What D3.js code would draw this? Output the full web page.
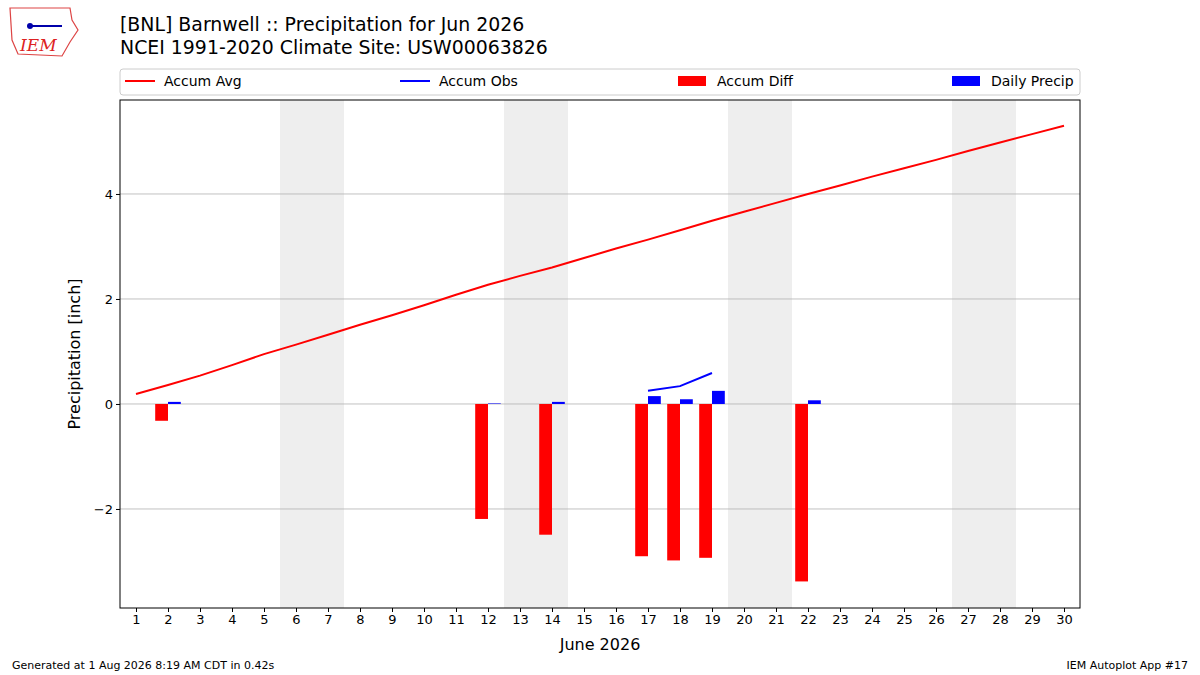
<!DOCTYPE html>
<html><head><meta charset="utf-8">
<script src="https://cdn.jsdelivr.net/npm/d3@7"></script>
<style>body{margin:0;background:#fff;font-family:"DejaVu Sans",sans-serif}</style>
</head><body><svg id="c" width="1200" height="675"></svg>
<script>
const days = d3.range(1,31);
const accumAvg = [0.19,0.36,0.54,0.74,0.95,1.13,1.32,1.51,1.69,1.88,2.08,2.27,2.44,2.60,2.78,2.96,3.13,3.31,3.49,3.66,3.83,4.00,4.16,4.33,4.49,4.65,4.82,4.98,5.14,5.30];
const obsDays = [17,18,19];
const accumObs = [0.25,0.34,0.59];
const precipDays = [2,12,14,17,18,19,22];
const dailyPrecip = [0.04,0.01,0.04,0.15,0.09,0.25,0.07];
const diffDays = [2,12,14,17,18,19,22];
const accumDiff = [-0.32,-2.19,-2.49,-2.9,-2.98,-2.93,-3.38];
const weekends = [6,13,20,27];
const yTicks = [-2,0,2,4];

const svg = d3.select("#c");
const L=120,R=1080,T=100,B=608;
const x = d3.scaleLinear().domain([0.5,30.5]).range([L,R]);
const y = d3.scaleLinear().domain([-3.886,5.79]).range([B,T]);

svg.selectAll(".we").data(weekends).enter().append("rect")
 .attr("x",d=>x(d-0.5)).attr("width",d=>x(d+1.5)-x(d-0.5))
 .attr("y",T).attr("height",B-T).attr("fill","#eeeeee");
svg.selectAll(".gl").data(yTicks).enter().append("line")
 .attr("x1",L).attr("x2",R).attr("y1",d=>y(d)).attr("y2",d=>y(d)).attr("stroke","#b0b0b0").attr("stroke-width",0.8);

svg.selectAll(".dr").data(diffDays).enter().append("rect")
 .attr("x",d=>x(d-0.4)).attr("width",x(1.4)-x(1))
 .attr("y",(d,i)=>y(Math.max(0,accumDiff[i]))).attr("height",(d,i)=>Math.abs(y(accumDiff[i])-y(0)))
 .attr("fill","red");
svg.selectAll(".dp").data(precipDays).enter().append("rect")
 .attr("x",d=>x(d)).attr("width",x(1.4)-x(1))
 .attr("y",(d,i)=>y(dailyPrecip[i])).attr("height",(d,i)=>y(0)-y(dailyPrecip[i]))
 .attr("fill","blue");

const line=d3.line().x(d=>x(d[0])).y(d=>y(d[1]));
svg.append("path").attr("d",line(days.map((d,i)=>[d,accumAvg[i]]))).attr("fill","none").attr("stroke","red").attr("stroke-width",2);
svg.append("path").attr("d",line(obsDays.map((d,i)=>[d,accumObs[i]]))).attr("fill","none").attr("stroke","blue").attr("stroke-width",2);

svg.append("rect").attr("x",L).attr("y",T).attr("width",R-L).attr("height",B-T).attr("fill","none").attr("stroke","#000");

const xa=svg.append("g").attr("transform",`translate(0,${B})`).call(d3.axisBottom(x).tickValues(days).tickFormat(d3.format("d")).tickSizeOuter(0).tickSize(4));
const ya=svg.append("g").attr("transform",`translate(${L},0)`).call(d3.axisLeft(y).tickValues(yTicks).tickFormat(d=>d<0?"\u2212"+(-d):d).tickSizeOuter(0).tickSize(4));
[xa,ya].forEach(a=>{a.select(".domain").remove();a.selectAll("text").attr("font-size",13).attr("fill","#000").attr("font-family","DejaVu Sans");});

svg.append("text").attr("x",600).attr("y",650).attr("text-anchor","middle").attr("font-size",16).text("June 2026");
svg.append("text").attr("transform","translate(80,354) rotate(-90)").attr("text-anchor","middle").attr("font-size",16).text("Precipitation [inch]");
svg.append("text").attr("x",120).attr("y",31).attr("font-size",18.9).text("[BNL] Barnwell :: Precipitation for Jun 2026");
svg.append("text").attr("x",120).attr("y",54).attr("font-size",18.9).text("NCEI 1991-2020 Climate Site: USW00063826");
svg.append("text").attr("x",12).attr("y",669).attr("font-size",11).text("Generated at 1 Aug 2026 8:19 AM CDT in 0.42s");
svg.append("text").attr("x",1188).attr("y",669).attr("text-anchor","end").attr("font-size",11).text("IEM Autoplot App #17");

// legend
svg.append("rect").attr("x",L).attr("y",69).attr("width",R-L).attr("height",26).attr("fill","#fff").attr("stroke","#ccc").attr("rx",3);
const leg=[["Accum Avg","red","line",125],["Accum Obs","blue","line",400],["Accum Diff","red","rect",678],["Daily Precip","blue","rect",952]];
leg.forEach(([t,c,k,lx])=>{
 if(k==="line") svg.append("line").attr("x1",lx).attr("x2",lx+30).attr("y1",81).attr("y2",81).attr("stroke",c).attr("stroke-width",2);
 else svg.append("rect").attr("x",lx).attr("y",76).attr("width",28).attr("height",10).attr("fill",c);
 svg.append("text").attr("x",lx+39).attr("y",86).attr("font-size",14).text(t);
});
// logo
const g=svg.append("g");
g.append("path").attr("d","M10 8 L70 8 L72 20 L78 30 L70 42 L62 56 L18 54 L12 40 Z").attr("fill","none").attr("stroke","#d44").attr("stroke-width",1.2);
g.append("text").attr("x",20).attr("y",51).attr("font-size",17).attr("font-style","italic").attr("font-family","DejaVu Serif").attr("fill","#d22").text("IEM");
g.append("line").attr("x1",30).attr("x2",62).attr("y1",26).attr("y2",26).attr("stroke","#00a").attr("stroke-width",2);
g.append("circle").attr("cx",30).attr("cy",26).attr("r",3).attr("fill","#00a");
</script></body></html>
